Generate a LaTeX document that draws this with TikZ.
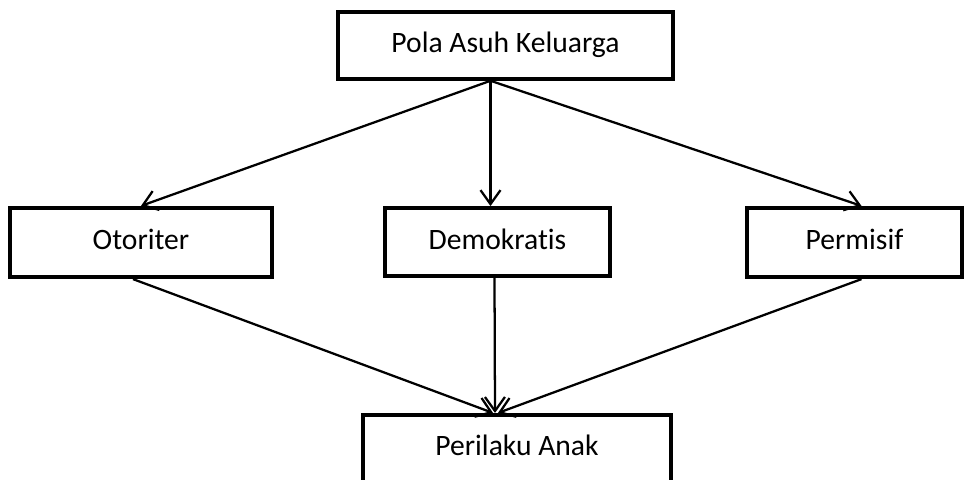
\documentclass[tikz,border=0pt]{standalone}
\usepackage{fontspec}
\setmainfont{Carlito}[Ligatures=NoCommon]
\usetikzlibrary{arrows.meta,calc}

\begin{document}
\begin{tikzpicture}[x=0.75pt, y=-0.75pt]
        \tikzstyle{every node}=[draw, line width=2.9pt, inner sep=0pt, text height=15.7pt, text depth=5.2pt, font=\fontsize{22.2}{26}\selectfont]
        \useasboundingbox (0,0) rectangle (964,479);

        \node   (pola)       [minimum width=251pt, minimum height=50pt] at (505.5,45.5) {Pola Asuh Keluarga};
        \node   (otoriter)   [minimum width=196pt, minimum height=52pt] at (141,242.5)  {Otoriter};
        \node   (demokratis) [minimum width=169pt, minimum height=51pt] at (497.5,242)  {Demokratis};
        \node   (permisif)   [minimum width=161pt, minimum height=52pt] at (854.5,242.5) {Permisif};
        \node   (perilaku)   [minimum width=231pt, minimum height=50pt] at (517,448.2)  {Perilaku Anak};

        \coordinate (fork) at ($(pola.south)+(-15,0)$);

        \path[-{Straight Barb[length=10.5pt, width=15pt]}, line width=1.7pt]
                        (fork) edge (otoriter.north)
                        (fork) edge (fork |- demokratis.north)
                        (fork) edge ($(permisif.north)+(7,0)$)
                        ($(otoriter.south)+(-8,0)$) edge ($(perilaku.north)+(-24,0)$)
                        ($(demokratis.south)+(-3,0)$) edge ($(perilaku.north)+(-22,0)$)
                        ($(permisif.south)+(7,0)$) edge ($(perilaku.north)+(-19,0)$);

    \end{tikzpicture}
\end{document}
